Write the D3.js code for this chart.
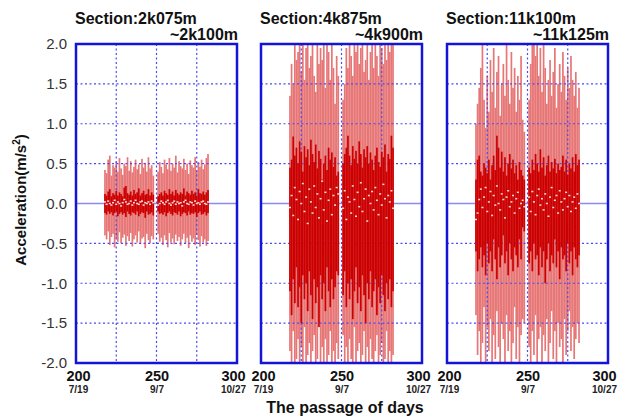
<!DOCTYPE html>
<html><head><meta charset="utf-8">
<script src="https://cdn.jsdelivr.net/npm/d3@7"></script>
<style>
html,body{margin:0;padding:0;background:#fff;}
svg{display:block;font-family:"Liberation Sans",Arial,sans-serif;}
</style></head>
<body><svg id="c" width="632" height="417"></svg>
<script>
const days = [218,219,220,221,222,223,224,225,226,227,228,229,230,231,232,233,234,235,236,237,238,239,240,241,242,243,244,245,246,247,248,
251,252,253,254,255,256,257,258,259,260,261,262,263,264,265,266,267,268,269,270,271,272,273,274,275,276,277,278,279,280,281,282];

const xTicks = [200,250,300];
const xDates = ["7/19","9/7","10/27"];
const yTicks = [-2.0,-1.5,-1.0,-0.5,0.0,0.5,1.0,1.5,2.0];
const titles1 = ["Section:2k075m","Section:4k875m","Section:11k100m"];
const titles2 = ["~2k100m","~4k900m","~11k125m"];

const hi1 = [0.42,0.38,0.55,0.60,0.35,0.48,0.45,0.52,0.40,0.57,
0.44,0.36,0.50,0.47,0.58,0.41,0.53,0.39,0.46,0.55,
0.43,0.49,0.37,0.56,0.45,0.51,0.40,0.58,0.44,0.48,
0.35,0.40,0.52,0.46,0.38,0.55,0.49,0.43,0.57,0.41,
0.50,0.45,0.60,0.39,0.53,0.47,0.44,0.56,0.42,0.50,
0.37,0.54,0.48,0.45,0.58,0.41,0.52,0.46,0.55,0.43,
0.49,0.57,0.62];
const lo1 = [-0.40,-0.45,-0.35,-0.52,-0.42,-0.38,-0.55,-0.44,-0.48,-0.36,
-0.50,-0.43,-0.39,-0.53,-0.41,-0.47,-0.37,-0.54,-0.45,-0.40,
-0.49,-0.35,-0.51,-0.44,-0.42,-0.56,-0.38,-0.46,-0.50,-0.41,
-0.45,-0.38,-0.48,-0.43,-0.52,-0.40,-0.46,-0.55,-0.37,-0.49,
-0.44,-0.51,-0.39,-0.47,-0.42,-0.53,-0.45,-0.38,-0.50,-0.43,
-0.56,-0.40,-0.48,-0.44,-0.52,-0.39,-0.46,-0.54,-0.41,-0.49,
-0.45,-0.53,-0.47];
const dHi1 = [0.12,0.10,0.15,0.18,0.09,0.13,0.11,0.16,0.10,0.14,
0.12,0.09,0.20,0.22,0.13,0.11,0.15,0.10,0.17,0.12,
0.14,0.19,0.10,0.13,0.16,0.11,0.12,0.18,0.10,0.14,
0.11,0.09,0.12,0.14,0.10,0.16,0.13,0.11,0.18,0.12,
0.15,0.10,0.17,0.13,0.11,0.14,0.12,0.19,0.10,0.15,
0.13,0.11,0.16,0.12,0.14,0.10,0.18,0.13,0.12,0.15,
0.11,0.14,0.17];
const dLo1 = [-0.12,-0.14,-0.10,-0.13,-0.11,-0.15,-0.12,-0.10,-0.16,-0.13,
-0.11,-0.14,-0.12,-0.17,-0.10,-0.13,-0.15,-0.11,-0.12,-0.14,
-0.10,-0.16,-0.13,-0.11,-0.12,-0.18,-0.10,-0.14,-0.13,-0.11,
-0.15,-0.10,-0.13,-0.12,-0.14,-0.11,-0.16,-0.12,-0.10,-0.13,
-0.15,-0.11,-0.12,-0.14,-0.10,-0.16,-0.13,-0.11,-0.12,-0.15,
-0.10,-0.14,-0.12,-0.13,-0.11,-0.17,-0.12,-0.10,-0.14,-0.13,
-0.11,-0.15,-0.12];
const mean1 = [0.02,-0.01,0.03,0.00,-0.02,0.01,0.04,-0.01,0.02,0.00,
-0.03,0.01,0.05,0.02,-0.01,0.00,0.03,-0.02,0.01,0.04,
0.00,-0.01,0.02,0.03,-0.02,0.01,0.00,0.02,-0.01,0.03,
0.01,-0.02,0.00,0.03,0.01,-0.01,0.02,0.04,0.00,-0.02,
0.01,0.03,-0.01,0.02,0.00,0.01,-0.03,0.02,0.04,0.00,
-0.01,0.02,0.01,-0.02,0.03,0.00,0.01,-0.01,0.02,0.03,
0.00,-0.01,0.02];

const hi2 = [1.35,1.75,1.50,2.20,1.80,1.90,2.30,1.65,2.10,1.55,
1.95,2.25,1.70,1.85,2.05,1.60,1.40,2.15,1.75,1.95,
1.80,2.20,1.45,2.00,1.90,1.55,2.10,1.70,1.25,1.85,
1.60,1.30,1.50,1.95,1.70,2.20,1.85,1.60,2.10,1.90,
2.25,1.75,1.95,2.05,1.65,1.80,2.20,1.55,1.90,2.15,
1.70,2.00,1.85,1.60,2.25,1.95,1.75,2.10,1.80,2.05,
1.90,2.20,2.10];
const lo2 = [-1.85,-2.10,-1.60,-2.25,-1.95,-1.70,-2.20,-1.80,-2.05,-1.55,
-2.15,-1.90,-1.75,-2.30,-1.85,-1.65,-2.10,-1.95,-1.50,-2.20,
-1.80,-2.00,-1.70,-2.25,-1.90,-1.60,-2.15,-1.85,-2.05,-1.75,
-1.95,-1.65,-2.10,-1.80,-2.20,-1.70,-1.95,-2.05,-1.55,-2.25,
-1.85,-1.75,-2.15,-1.90,-1.60,-2.00,-1.80,-2.30,-1.70,-1.95,
-2.10,-1.85,-1.65,-2.20,-1.90,-1.75,-2.05,-1.95,-1.60,-2.15,
-1.85,-2.00,-1.90];
const dHi2 = [0.45,0.55,0.84,0.60,0.70,0.50,0.78,0.65,0.40,0.72,
0.58,0.68,0.48,0.80,0.62,0.52,0.74,0.44,0.66,0.56,
0.30,0.50,0.60,0.42,0.70,0.55,0.64,0.46,0.58,0.35,
0.40,0.50,0.62,0.70,0.85,0.60,0.48,0.72,0.56,0.66,
0.50,0.78,0.62,0.45,0.68,0.58,0.72,0.50,0.64,0.55,
0.42,0.60,0.70,0.52,0.46,0.65,0.58,0.74,0.40,0.62,
0.56,0.85,0.70];
const dLo2 = [-1.10,-1.40,-0.95,-1.25,-0.80,-1.30,-1.05,-1.50,-0.90,-1.20,
-1.00,-1.35,-0.85,-1.15,-1.45,-0.95,-1.25,-1.05,-1.55,-0.90,
-1.20,-1.00,-1.35,-0.80,-1.10,-1.30,-0.95,-1.20,-1.05,-0.85,
-0.90,-1.15,-0.85,-1.30,-1.00,-1.20,-0.95,-1.45,-1.10,-0.80,
-1.25,-1.05,-1.35,-0.90,-1.15,-1.50,-1.00,-1.20,-0.85,-1.30,
-1.10,-0.95,-1.40,-1.05,-1.25,-0.90,-1.15,-1.35,-1.00,-1.20,
-0.95,-1.30,-1.10];
const mean2 = [-0.05,0.10,-0.15,0.20,0.05,-0.20,0.15,0.00,0.25,-0.10,
0.08,-0.25,0.18,0.02,-0.12,0.22,-0.05,0.12,-0.18,0.06,
0.28,-0.08,0.14,-0.22,0.04,0.18,-0.14,0.10,-0.02,0.20,
0.12,-0.06,0.16,-0.20,0.08,0.02,-0.12,0.22,0.05,-0.16,
0.14,-0.04,0.26,-0.10,0.06,0.18,-0.22,0.10,0.00,0.15,
-0.08,0.20,0.04,-0.14,0.12,-0.02,0.24,0.06,-0.18,0.10,
0.02,0.16,-0.06];

const hi3 = [1.00,1.25,1.45,1.70,2.05,1.30,0.95,1.60,1.15,1.80,
1.40,1.95,1.20,1.65,1.85,1.10,1.50,1.75,1.35,2.10,
1.55,1.25,1.90,1.45,1.70,1.15,1.60,1.30,1.85,1.05,
0.90,1.30,1.75,2.00,2.20,1.85,2.10,1.60,1.95,1.40,
2.05,1.70,1.25,1.55,1.80,1.35,1.65,1.95,1.20,1.50,
1.75,1.40,1.90,1.60,1.30,1.70,1.45,1.85,1.55,1.35,
1.65,1.20,1.45];
const lo3 = [-1.40,-1.90,-1.60,-2.15,-1.75,-1.30,-2.05,-1.55,-1.85,-1.45,
-2.10,-1.65,-1.95,-1.35,-1.80,-2.20,-1.50,-1.70,-2.00,-1.40,
-1.85,-1.60,-2.10,-1.75,-1.30,-1.95,-1.55,-2.05,-1.65,-1.45,
-1.50,-1.80,-2.15,-1.60,-1.90,-1.40,-2.00,-1.70,-1.55,-2.20,
-1.65,-1.85,-1.45,-2.05,-1.75,-1.35,-1.95,-1.60,-2.10,-1.50,
-1.80,-1.70,-2.00,-1.45,-1.90,-1.60,-1.35,-1.85,-1.55,-1.95,
-1.70,-1.50,-1.75];
const dHi3 = [0.30,0.55,0.60,0.40,0.35,0.50,0.45,0.38,0.55,0.30,
0.48,0.60,0.42,0.85,0.70,0.45,0.65,0.40,0.58,0.35,
0.50,0.62,0.44,0.55,0.38,0.48,0.30,0.52,0.42,0.35,
0.30,0.45,0.38,0.55,0.42,0.62,0.50,0.40,0.68,0.45,
0.58,0.35,0.48,0.60,0.40,0.52,0.44,0.56,0.38,0.50,
0.42,0.46,0.60,0.40,0.55,0.36,0.50,0.44,0.58,0.40,
0.62,0.48,0.55];
const dLo3 = [-0.60,-0.85,-0.70,-0.55,-0.80,-0.65,-0.90,-0.50,-0.75,-0.60,
-0.85,-0.45,-0.70,-0.95,-0.55,-0.80,-0.65,-0.40,-0.75,-0.60,
-0.90,-0.50,-0.70,-0.85,-0.55,-0.65,-0.80,-0.45,-0.70,-0.30,
-0.35,-0.75,-0.60,-0.85,-0.50,-0.70,-0.65,-0.90,-0.55,-0.80,
-0.60,-1.00,-0.70,-0.50,-0.85,-0.65,-0.75,-0.45,-0.80,-0.60,
-0.95,-0.55,-0.70,-0.65,-0.85,-0.50,-0.75,-0.60,-0.90,-0.55,
-0.70,-0.80,-0.65];
const mean3 = [-0.20,-0.12,0.05,0.18,-0.05,0.08,0.20,-0.10,0.02,0.15,
-0.15,0.10,-0.02,0.22,0.00,-0.08,0.12,0.05,-0.18,0.08,
0.16,-0.04,0.02,0.10,-0.12,0.06,0.14,-0.06,0.00,0.04,
-0.04,0.08,-0.10,0.15,0.02,-0.14,0.10,0.18,-0.02,0.06,
-0.08,0.12,0.00,-0.16,0.08,0.20,-0.05,0.04,0.10,-0.12,
0.16,0.02,-0.08,0.06,0.14,-0.04,0.10,-0.10,0.02,0.08,
-0.06,0.12,0.00];

const series = [
  {hi:hi1, lo:lo1, dHi:dHi1, dLo:dLo1, mean:mean1},
  {hi:hi2, lo:lo2, dHi:dHi2, dLo:dLo2, mean:mean2},
  {hi:hi3, lo:lo3, dHi:dHi3, dLo:dLo3, mean:mean3}
];

const svg = d3.select("#c");
const panelLeft = [76, 261, 447];
const pw = 161, pTop = 44, ph = 319;
const x = d3.scaleLinear().domain([200,300]).range([0,pw]);
const y = d3.scaleLinear().domain([-2,2]).range([ph,0]);
const LIGHT = "#e77676", DARK = "#cc0000", BLUE = "#1414d8", GRID = "#4a4af0";
const FONT = "Liberation Sans, Arial, sans-serif";

series.forEach((s,i) => {
  const g = svg.append("g").attr("transform",`translate(${panelLeft[i]},${pTop})`);
  g.append("clipPath").attr("id","clip"+i).append("rect").attr("width",pw).attr("height",ph);
  const plot = g.append("g").attr("clip-path",`url(#clip${i})`);
  const data = days.map((d,k)=>({d, hi:s.hi[k], lo:s.lo[k], dHi:s.dHi[k], dLo:s.dLo[k], m:s.mean[k]}));
  const bw = 1.7;
  plot.selectAll(".l").data(data).enter().append("rect")
    .attr("x",d=>x(d.d)-bw/2).attr("width",bw)
    .attr("y",d=>y(d.hi)).attr("height",d=>y(d.lo)-y(d.hi)).attr("fill",LIGHT);
  [-1.5,-1,-0.5,0.5,1,1.5].forEach(v=>{
    plot.append("line").attr("x1",0).attr("x2",pw).attr("y1",y(v)).attr("y2",y(v))
      .attr("stroke",GRID).attr("stroke-width",1.2).attr("stroke-dasharray","2,2.5");
  });
  [225,250,275].forEach(v=>{
    plot.append("line").attr("y1",0).attr("y2",ph).attr("x1",x(v)).attr("x2",x(v))
      .attr("stroke",GRID).attr("stroke-width",1.2).attr("stroke-dasharray","2,2.5");
  });
  plot.append("line").attr("x1",0).attr("x2",pw).attr("y1",y(0)).attr("y2",y(0))
    .attr("stroke","#8a8af0").attr("stroke-width",1.6);
  plot.selectAll(".dk").data(data).enter().append("rect")
    .attr("x",d=>x(d.d)-bw/2).attr("width",bw)
    .attr("y",d=>y(d.dHi)).attr("height",d=>y(d.dLo)-y(d.dHi)).attr("fill",DARK);
  plot.selectAll(".m").data(data).enter().append("rect")
    .attr("x",d=>x(d.d)-1).attr("width",2)
    .attr("y",d=>y(d.m)-0.75).attr("height",1.5).attr("fill","#fff").attr("opacity",0.85);
  g.append("rect").attr("width",pw).attr("height",ph).attr("fill","none")
    .attr("stroke",BLUE).attr("stroke-width",2.5);

  g.append("text").attr("x",-1).attr("y",24-pTop).text(titles1[i])
    .attr("font-size",16).attr("font-weight","bold").attr("fill","#111");
  g.append("text").attr("x",pw+1).attr("y",40-pTop).attr("text-anchor","end").text(titles2[i])
    .attr("font-size",16).attr("font-weight","bold").attr("fill","#111");

  const xa = g.append("g").attr("transform",`translate(0,${ph})`)
    .call(d3.axisBottom(x).tickValues(xTicks).tickFormat(d3.format("d")).tickSize(0).tickPadding(8));
  xa.select(".domain").remove();
  const shift = [2,0,-4];
  xa.selectAll(".tick text").attr("font-size",14.5).attr("font-weight","bold")
    .attr("fill","#111").attr("font-family",FONT)
    .attr("dx",(d,k)=>shift[k]);
  xa.selectAll(".tick").append("text").text((d,k)=>xDates[k])
    .attr("y",30).attr("dx",(d,k)=>shift[k]).attr("text-anchor","middle")
    .attr("font-size",10).attr("font-weight","bold").attr("fill","#222")
    .attr("font-family",FONT);

  if (i===0) {
    const ya = g.append("g").call(d3.axisLeft(y).tickValues(yTicks).tickFormat(d3.format(".1f")).tickSize(0).tickPadding(9));
    ya.select(".domain").remove();
    ya.selectAll(".tick text").attr("font-size",15).attr("fill","#333")
      .attr("font-family",FONT)
      .text(d=>d3.format(".1f")(d).replace("−","-"));
  }
});

const yl = svg.append("text").attr("transform","translate(26,200) rotate(-90)")
  .attr("text-anchor","middle").attr("font-size",15).attr("font-weight","bold").attr("fill","#111");
yl.append("tspan").text("Acceleration(m/s");
yl.append("tspan").text("2").attr("font-size",10).attr("dy",-6);
yl.append("tspan").text(")").attr("dy",6);

svg.append("text").attr("x",345).attr("y",413).attr("text-anchor","middle")
  .attr("font-size",16).attr("font-weight","bold").attr("fill","#111").text("The passage of days");
</script></body></html>
